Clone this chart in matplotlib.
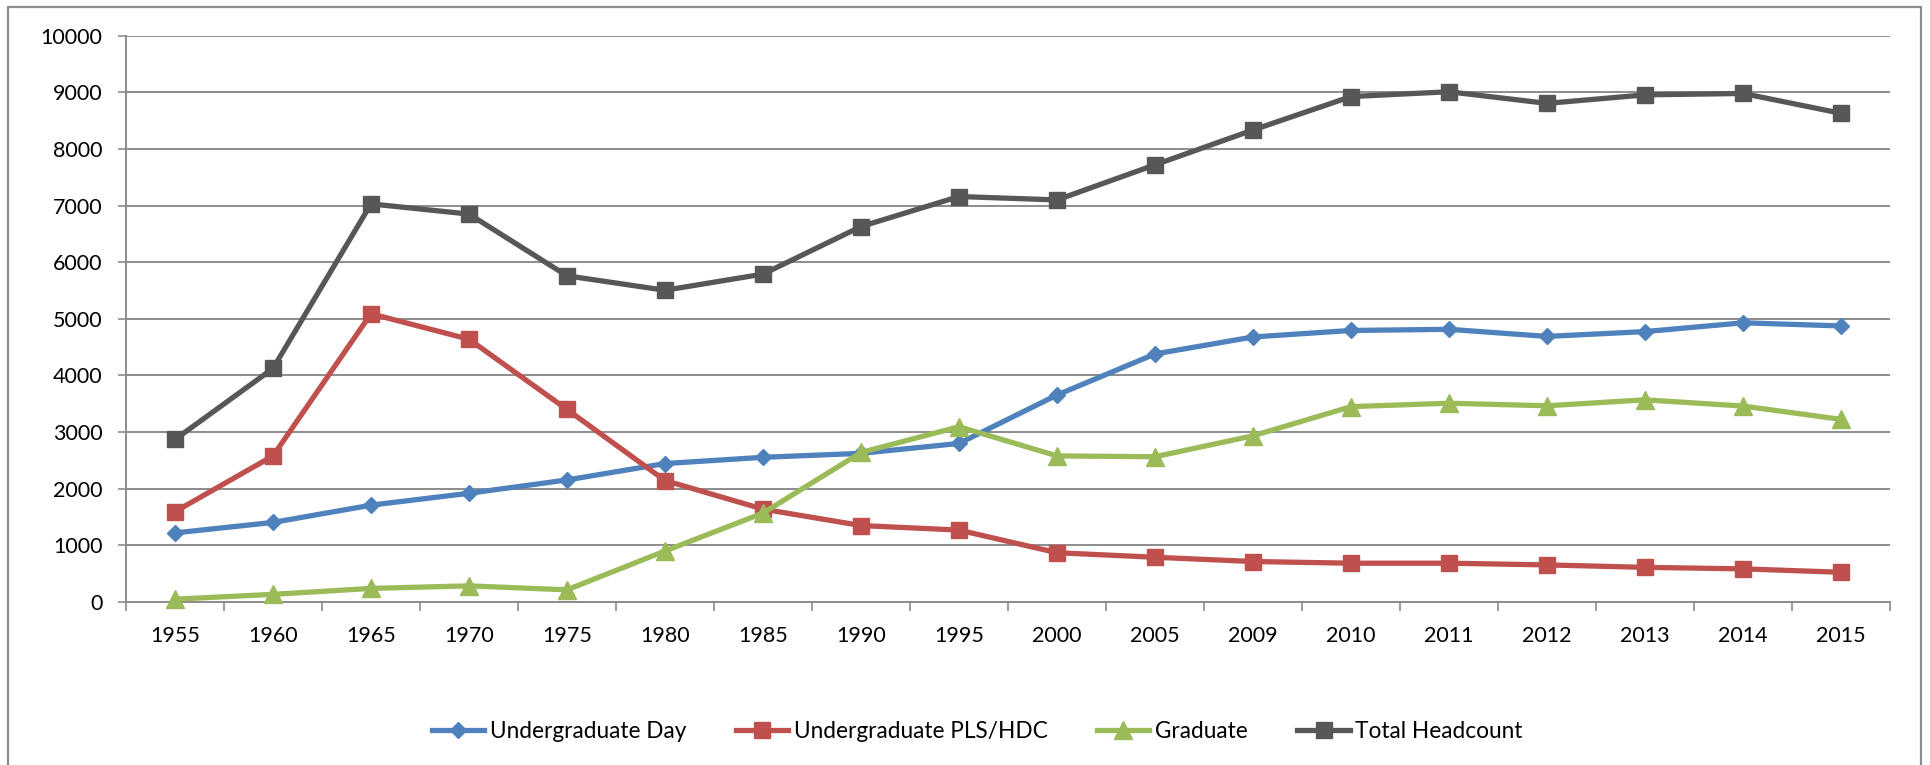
import matplotlib.pyplot as plt
from matplotlib.patches import Rectangle

plt.rcParams['font.family'] = ['Lato', 'DejaVu Sans']

# enrollment by year
years = ["1955", "1960", "1965", "1970", "1975", "1980", "1985", "1990", "1995",
         "2000", "2005", "2009", "2010", "2011", "2012", "2013", "2014", "2015"]
undergrad_day = [1220, 1405, 1710, 1920, 2155, 2445, 2555, 2625, 2800,
                 3655, 4380, 4680, 4795, 4815, 4690, 4775, 4930, 4875]
undergrad_pls_hdc = [1595, 2580, 5090, 4640, 3400, 2145, 1640, 1350, 1270,
                     870, 790, 715, 685, 685, 655, 612, 585, 525]
graduate = [50, 135, 240, 285, 215, 900, 1570, 2640, 3095,
            2580, 2565, 2935, 3450, 3510, 3465, 3570, 3460, 3225]
total_headcount = [2870, 4125, 7030, 6850, 5760, 5505, 5790, 6630, 7160,
                   7100, 7720, 8335, 8925, 9010, 8805, 8955, 8980, 8630]

series = [
    ("Undergraduate Day", undergrad_day, "#4F81BD", "D", 8.5),
    ("Undergraduate PLS/HDC", undergrad_pls_hdc, "#C0504D", "s", 12),
    ("Graduate", graduate, "#9BBB59", "^", 12.5),
    ("Total Headcount", total_headcount, "#575757", "s", 12),
]

W, H = 1930, 765
fig = plt.figure(figsize=(W / 100, H / 100), dpi=100)
ax = fig.add_axes([126 / W, 1 - 602 / H, (1890 - 126) / W, (602 - 35.7) / H])

grid_col = "#8c8c8c"
x = list(range(len(years)))
for name, vals, col, mk, ms in series:
    ax.plot(x, vals, color=col, lw=3.8, marker=mk, ms=ms,
            markerfacecolor=col, markeredgecolor=col, label=name,
            solid_joinstyle="round", clip_on=False, zorder=3)

ax.set_xlim(-0.5, len(years) - 0.5)
ax.set_ylim(0, 10000)
ax.set_yticks(range(0, 10001, 1000))
ax.set_yticklabels([str(v) for v in range(0, 10001, 1000)])

# boundary ticks between categories, labels centred on each category
ax.set_xticks([i - 0.5 for i in range(len(years) + 1)])
ax.set_xticklabels([])
ax.set_xticks(x, minor=True)
ax.set_xticklabels(years, minor=True)
ax.tick_params(axis="x", which="major", length=6.5, width=1.2, color=grid_col)
ax.tick_params(axis="x", which="minor", length=0, pad=17, labelsize=15.5)
ax.tick_params(axis="y", length=6, width=1.2, color=grid_col, pad=11, labelsize=15.5)

ax.grid(axis="y", color=grid_col, lw=1.4)
ax.set_axisbelow(True)
for s in ["top", "right"]:
    ax.spines[s].set_visible(False)
for s in ["left", "bottom"]:
    ax.spines[s].set_color(grid_col)
    ax.spines[s].set_linewidth(1.4)

fig.legend(loc="center left", bbox_to_anchor=(432 / W, 1 - 731 / H), ncol=4,
           frameon=False, fontsize=16.3, handlelength=2.3, handletextpad=0.25,
           columnspacing=2.2, borderpad=0, borderaxespad=0)

# outer chart border
fig.patches.append(Rectangle((8 / W, -0.02), (1921 - 8) / W, 1.02 - 7 / H,
                             transform=fig.transFigure, fill=False,
                             edgecolor=grid_col, lw=1.6))

fig.savefig("out.png", dpi=100)
